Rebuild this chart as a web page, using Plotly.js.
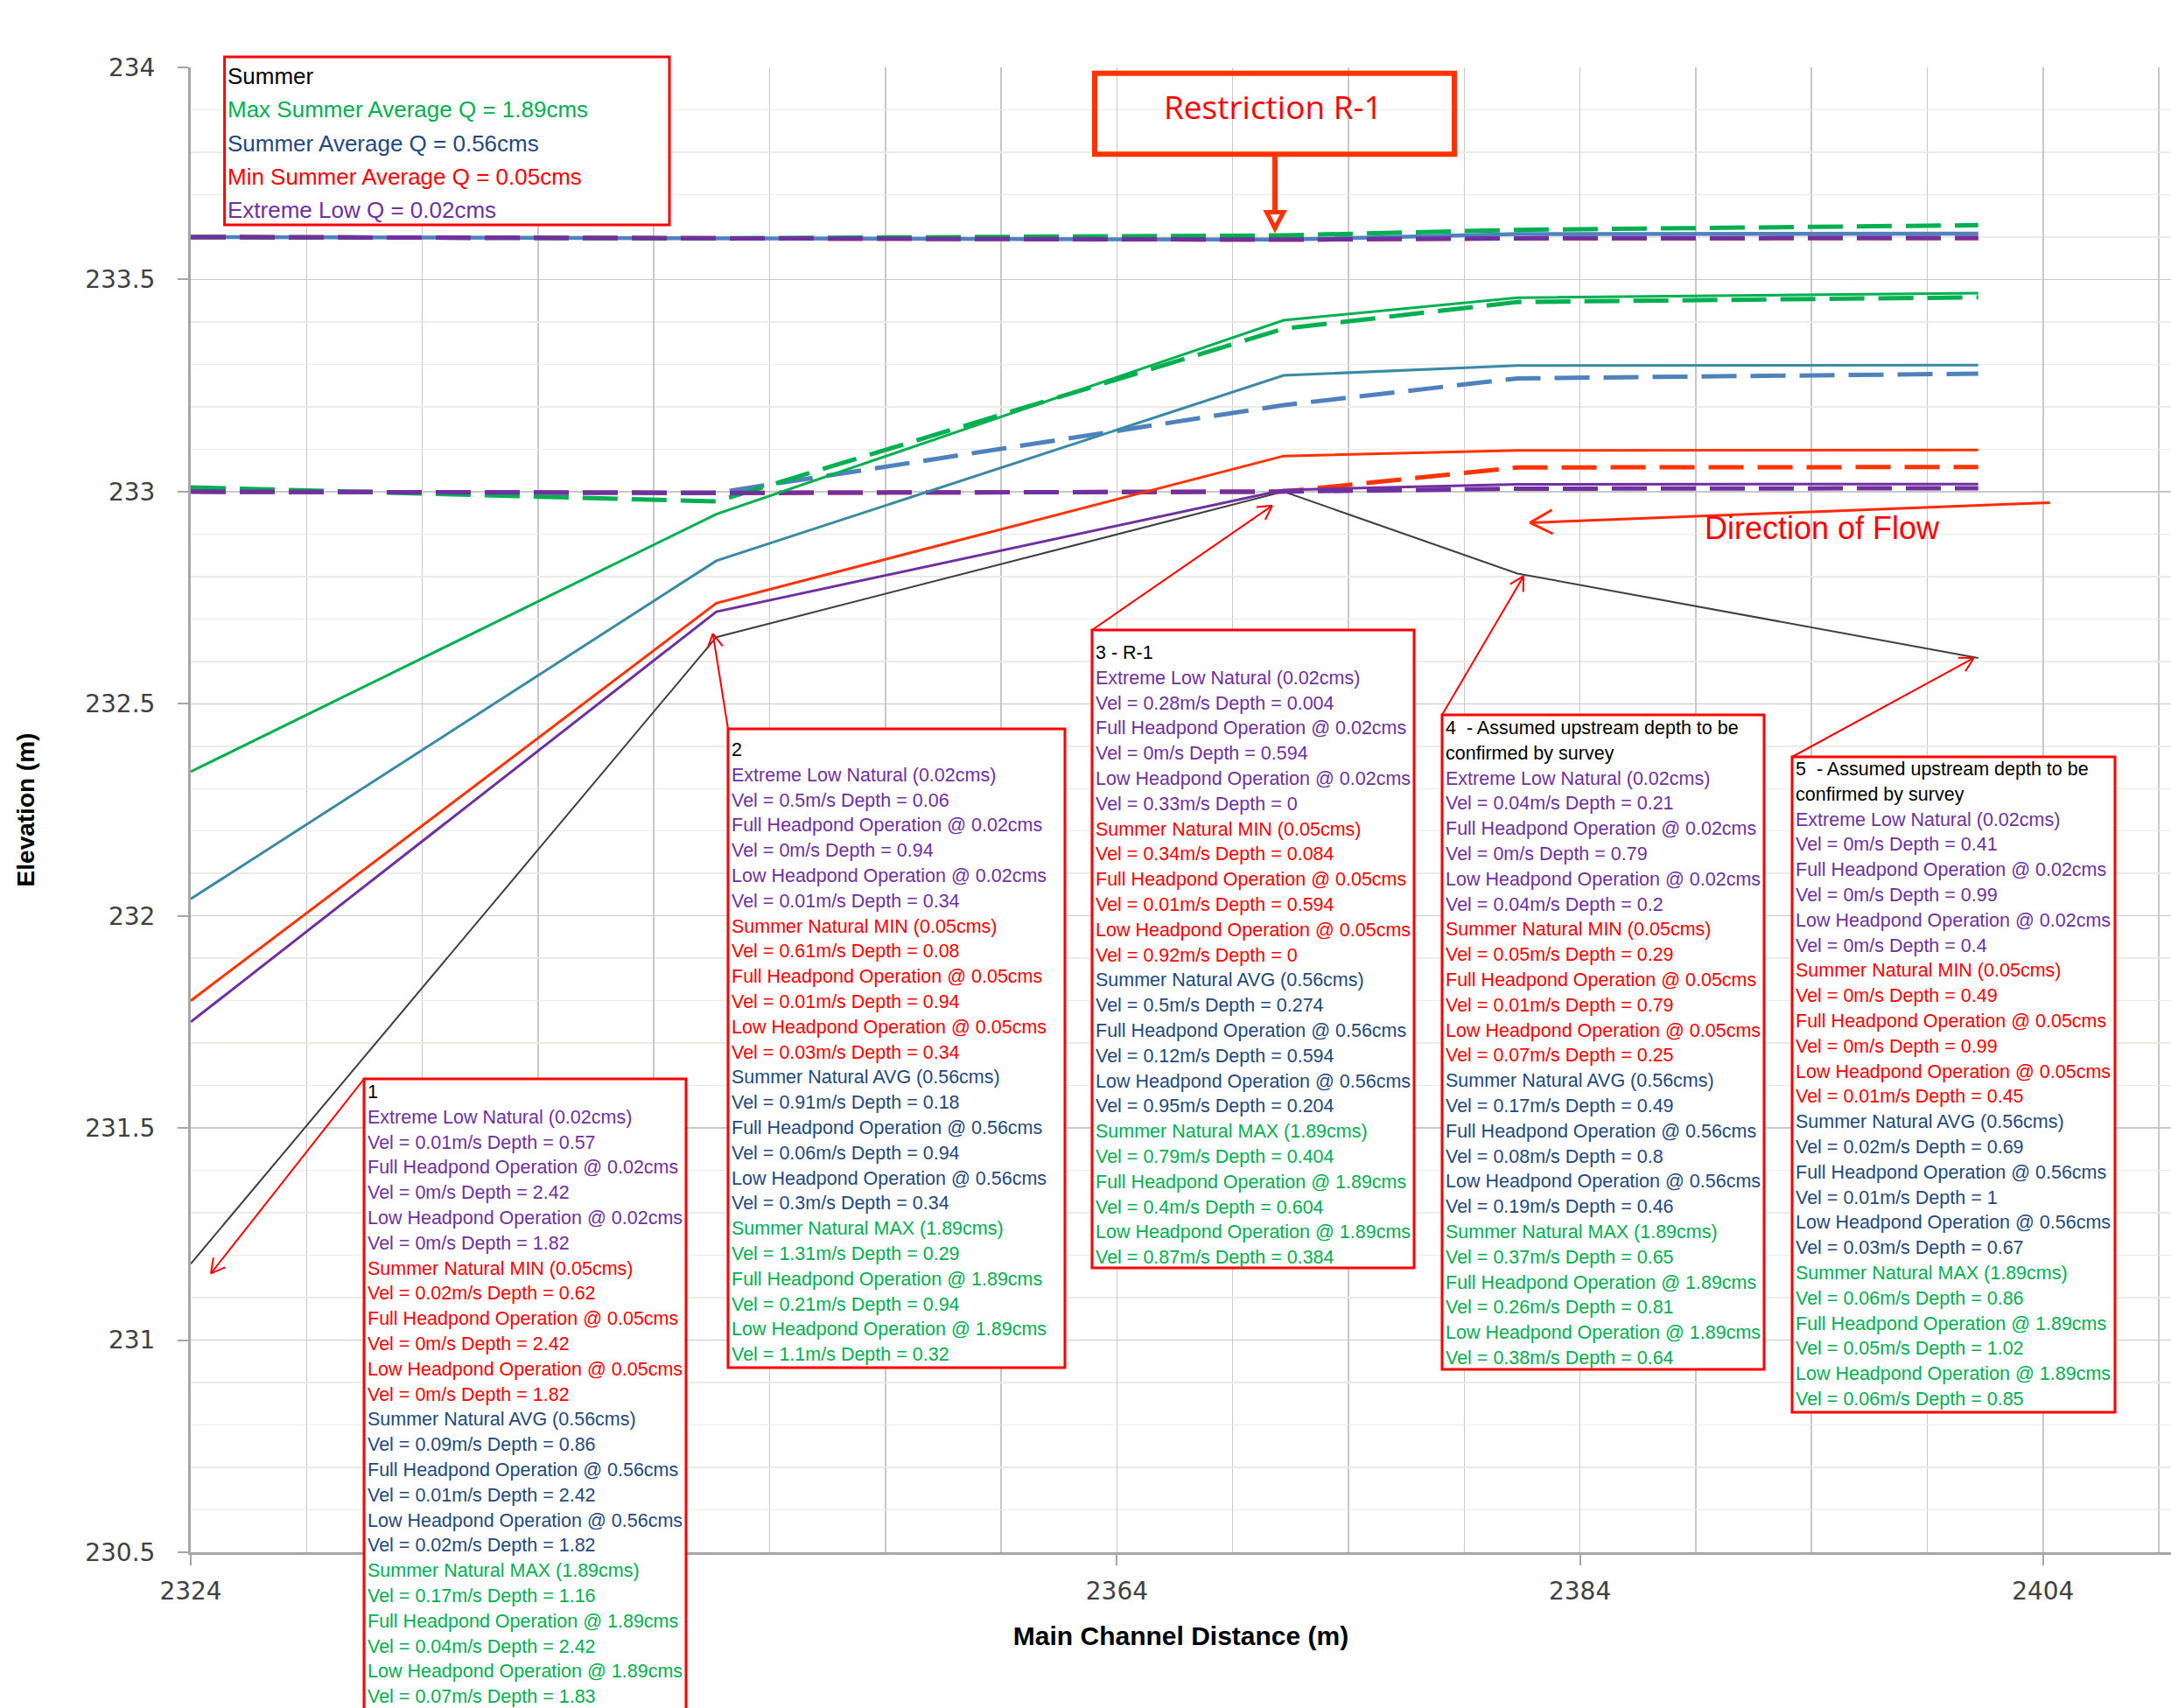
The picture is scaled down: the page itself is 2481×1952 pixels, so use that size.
<!DOCTYPE html>
<html>
<head>
<meta charset="utf-8">
<script src="https://cdn.plot.ly/plotly-3.0.1.min.js"></script>
<style>
  html, body { margin: 0; padding: 0; background: #ffffff; }
  #chart { width: 2481px; height: 1952px; }
</style>
</head>
<body>
<div id="chart"></div>
<script>
// Cross-section chainages along the main channel (m) and bed elevation (m)
const sectionDist = [2324, 2346.7, 2371.2, 2381.3, 2401.2];
const bedElev = [231.18, 232.657, 233.0, 232.807, 232.608];

// Flow depth (m) at each cross-section, per scenario
const depthNatExtLow = [0.57, 0.06, 0.004, 0.21, 0.41];
const depthFullHp002 = [2.42, 0.94, 0.594, 0.79, 0.99];
const depthLowHp002  = [1.82, 0.34, 0, 0.2, 0.4];
const depthNatMin    = [0.62, 0.08, 0.084, 0.29, 0.49];
const depthFullHp005 = [2.42, 0.94, 0.594, 0.79, 0.99];
const depthLowHp005  = [1.82, 0.34, 0, 0.25, 0.45];
const depthNatAvg    = [0.86, 0.18, 0.274, 0.49, 0.69];
const depthFullHp056 = [2.42, 0.94, 0.594, 0.8, 1];
const depthLowHp056  = [1.82, 0.34, 0.204, 0.46, 0.67];
const depthNatMax    = [1.16, 0.29, 0.404, 0.65, 0.86];
const depthFullHp189 = [2.42, 0.94, 0.604, 0.81, 1.02];
const depthLowHp189  = [1.83, 0.32, 0.384, 0.64, 0.85];

// Mean velocity (m/s) at each cross-section, per scenario
const velNatExtLow = [0.01, 0.5, 0.28, 0.04, 0];
const velFullHp002 = [0, 0, 0, 0, 0];
const velLowHp002  = [0, 0.01, 0.33, 0.04, 0];
const velNatMin    = [0.02, 0.61, 0.34, 0.05, 0];
const velFullHp005 = [0, 0.01, 0.01, 0.01, 0];
const velLowHp005  = [0, 0.03, 0.92, 0.07, 0.01];
const velNatAvg    = [0.09, 0.91, 0.5, 0.17, 0.02];
const velFullHp056 = [0.01, 0.06, 0.12, 0.08, 0.01];
const velLowHp056  = [0.02, 0.3, 0.95, 0.19, 0.03];
const velNatMax    = [0.17, 1.31, 0.79, 0.37, 0.06];
const velFullHp189 = [0.04, 0.21, 0.4, 0.26, 0.05];
const velLowHp189  = [0.07, 1.1, 0.87, 0.38, 0.06];

// Labels
const flowRates = ['0.02', '0.05', '0.56', '1.89'];
const naturalNames = ['Extreme Low Natural (0.02cms)', 'Summer Natural MIN (0.05cms)',
                      'Summer Natural AVG (0.56cms)', 'Summer Natural MAX (1.89cms)'];
const sectionHeaders = [['1'], ['2'], ['3 - R-1'],
  ['4 \u00a0- Assumed upstream depth to be', 'confirmed by survey'],
  ['5 \u00a0- Assumed upstream depth to be', 'confirmed by survey']];
const legendLines = ['Summer', 'Max Summer Average Q = 1.89cms', 'Summer Average Q = 0.56cms',
                     'Min Summer Average Q = 0.05cms', 'Extreme Low Q = 0.02cms'];
// x tick labels (the 2344 position sits under note box 1)
const xTickVals = [2324, 2344, 2364, 2384, 2404];
const xTickText = ['2324', '', '2364', '2384', '2404'];
const xTitle = 'Main Channel Distance (m)';
const yTitle = 'Elevation (m)';
const restrictionLabel = 'Restriction R-1';
const flowLabel = 'Direction of Flow';

// ---------- styling ----------
const PURPLE = '#7030a0', ORANGE_RED = '#ff3300', TEAL = '#3a8aa6', BLUE = '#4f81bd',
      GREEN = '#00b050', RED = '#ff0000', NAVY = '#1f497d', BED = '#404040';
const DASH = '40px,16px';
const TEXT_FONT = 'Liberation Sans, Arial, sans-serif';

// page geometry (px)
const W = 2481, H = 1952, ML = 218, MR = 0, MT = 77, MB = 178;
const PW = W - ML - MR, PH = H - MT - MB;
const X0 = 2324, PX_PER_M = 26.46, XMAX = X0 + PW / PX_PER_M;
const Y0 = 230.5, Y1 = 234;

const pxX = px => (px - ML) / PW;                 // page px -> paper x
const pxY = py => (H - MB - py) / PH;             // page px -> paper y
const dataToPx = (x, y) => [ML + (x - X0) / (XMAX - X0) * PW, H - MB - (y - Y0) / (Y1 - Y0) * PH];

// ---------- traces ----------
const surface = depth => depth.map((d, i) => +(bedElev[i] + d).toFixed(4));
const lineTrace = (name, y, color, width, dash) => ({
  type: 'scatter', mode: 'lines', name, x: sectionDist, y,
  line: { color, width, dash: dash || 'solid' }, hoverinfo: 'skip', showlegend: false
});

const traces = [
  lineTrace('Bed', bedElev, BED, 2),
  lineTrace('Full Headpond @ 0.05cms', surface(depthFullHp005), ORANGE_RED, 5, DASH),
  lineTrace('Full Headpond @ 0.56cms', surface(depthFullHp056), BLUE, 4.5),
  lineTrace('Full Headpond @ 1.89cms', surface(depthFullHp189), GREEN, 5, DASH),
  lineTrace('Full Headpond @ 0.02cms', surface(depthFullHp002), PURPLE, 5, DASH),
  lineTrace('Low Headpond @ 0.05cms', surface(depthLowHp005), ORANGE_RED, 5, DASH),
  lineTrace('Low Headpond @ 0.56cms', surface(depthLowHp056), BLUE, 5, DASH),
  lineTrace('Low Headpond @ 1.89cms', surface(depthLowHp189), GREEN, 5, DASH),
  lineTrace('Low Headpond @ 0.02cms', surface(depthLowHp002), PURPLE, 5, DASH),
  lineTrace('Summer Natural MAX', surface(depthNatMax), GREEN, 3),
  lineTrace('Summer Natural AVG', surface(depthNatAvg), TEAL, 3),
  lineTrace('Summer Natural MIN', surface(depthNatMin), ORANGE_RED, 3),
  lineTrace('Extreme Low Natural', surface(depthNatExtLow), PURPLE, 3)
];

// ---------- note boxes ----------
const groups = [
  { color: PURPLE, nat: [velNatExtLow, depthNatExtLow], full: [velFullHp002, depthFullHp002], low: [velLowHp002, depthLowHp002] },
  { color: RED,    nat: [velNatMin, depthNatMin],       full: [velFullHp005, depthFullHp005], low: [velLowHp005, depthLowHp005] },
  { color: NAVY,   nat: [velNatAvg, depthNatAvg],       full: [velFullHp056, depthFullHp056], low: [velLowHp056, depthLowHp056] },
  { color: GREEN,  nat: [velNatMax, depthNatMax],       full: [velFullHp189, depthFullHp189], low: [velLowHp189, depthLowHp189] }
];
const velLine = (pair, i) => `Vel = ${pair[0][i]}m/s Depth = ${pair[1][i]}`;

function noteLines(i) {
  const out = sectionHeaders[i].map(t => ({ t, c: '#000000' }));
  groups.forEach((g, k) => {
    out.push({ t: naturalNames[k], c: g.color });
    out.push({ t: velLine(g.nat, i), c: g.color });
    out.push({ t: `Full Headpond Operation @ ${flowRates[k]}cms`, c: g.color });
    out.push({ t: velLine(g.full, i), c: g.color });
    out.push({ t: `Low Headpond Operation @ ${flowRates[k]}cms`, c: g.color });
    out.push({ t: velLine(g.low, i), c: g.color });
  });
  return out;
}

// box frames in page px: left, top, right, bottom, centre of first text line
const noteBoxes = [
  [416, 1233, 784, 1995, 1248],
  [832, 833, 1217, 1563, 857],
  [1248, 720, 1616, 1449, 746],
  [1648, 817, 2016, 1565, 832],
  [2048, 865, 2417, 1614, 879]
];
const LINE_PITCH = 28.8;
// small pixel nudges of the leader tips from each bed point
const tipNudge = [[23, 11], [-4, -4], [-13, 16], [7, 3], [-5, 0]];

const shapes = [];
const annotations = [];

const seg = (x0, y0, x1, y1, color, width) => shapes.push({
  type: 'line', xref: 'paper', yref: 'paper', layer: 'above',
  x0: pxX(x0), y0: pxY(y0), x1: pxX(x1), y1: pxY(y1), line: { color, width }
});
function arrow(tx, ty, hx, hy, color, width, arm, half) {
  seg(tx, ty, hx, hy, color, width);
  const ang = Math.atan2(ty - hy, tx - hx);
  [-half, half].forEach(d => {
    const a = ang + d * Math.PI / 180;
    seg(hx, hy, hx + arm * Math.cos(a), hy + arm * Math.sin(a), color, width);
  });
}
const rect = (x0, y0, x1, y1, color, width, fill) => shapes.push({
  type: 'rect', xref: 'paper', yref: 'paper', layer: 'above',
  x0: pxX(x0), y0: pxY(y0), x1: pxX(x1), y1: pxY(y1),
  line: { color, width }, fillcolor: fill || 'rgba(0,0,0,0)'
});
const text = (x, y, t, color, size, family, xanchor) => annotations.push({
  xref: 'paper', yref: 'paper', x: pxX(x), y: pxY(y), text: t, showarrow: false,
  xanchor: xanchor || 'left', yanchor: 'middle',
  font: { family: family || TEXT_FONT, size, color }
});

noteBoxes.forEach((b, i) => {
  rect(b[0], b[1], b[2], b[3], RED, 3, '#ffffff');
  noteLines(i).forEach((ln, k) => text(b[0] + 2, b[4] + k * LINE_PITCH, ln.t, ln.c, 21.5));
  const p = dataToPx(sectionDist[i], bedElev[i]);
  arrow(b[0], b[1], p[0] + tipNudge[i][0], p[1] + tipNudge[i][1], RED, 2, 18, 29);
});

// scenario key
rect(256.6, 65, 765, 257, RED, 3, '#ffffff');
const legendColors = ['#000000', GREEN, NAVY, RED, PURPLE];
legendLines.forEach((t, k) => text(258, 87.3 + k * 38.2, t, legendColors[k], 26));

// restriction call-out
rect(1251, 83.7, 1662, 176.3, ORANGE_RED, 6);
text(1455, 121, restrictionLabel, RED, 37, 'Open Sans, DejaVu Sans, sans-serif', 'center');
seg(1457, 179, 1457, 243, ORANGE_RED, 6);
shapes.push({
  type: 'path', xref: 'paper', yref: 'paper', layer: 'above',
  path: `M ${pxX(1447.5)} ${pxY(242.5)} L ${pxX(1466.8)} ${pxY(242.5)} L ${pxX(1457)} ${pxY(261)} Z`,
  fillcolor: '#ffffff', line: { color: ORANGE_RED, width: 5 }
});

// flow direction
arrow(2342.7, 574.4, 1748.5, 597.4, '#ff2a0a', 3, 29, 28);
text(2082, 604, flowLabel, RED, 36, TEXT_FONT, 'center');

// ---------- layout ----------
const tickFont = { family: 'DejaVu Sans, Verdana, sans-serif', size: 28, color: '#404040' };
const titleFont = { family: TEXT_FONT, size: 28, color: '#000000', weight: 'bold' };

const layout = {
  width: W, height: H,
  margin: { l: ML, r: MR, t: MT, b: MB, pad: 0 },
  paper_bgcolor: '#ffffff', plot_bgcolor: '#ffffff',
  showlegend: false,
  xaxis: {
    range: [X0, XMAX], tickmode: 'array', tickvals: xTickVals, ticktext: xTickText,
    showgrid: true, gridcolor: '#c8c8c8', gridwidth: 1.5,
    minor: { tick0: 2324, dtick: 5, showgrid: true, gridcolor: '#c8c8c8', gridwidth: 1.5, ticks: '' },
    showline: true, linecolor: '#a6a6a6', linewidth: 3, zeroline: false,
    ticks: 'outside', ticklen: 12, tickwidth: 2, tickcolor: '#a6a6a6',
    tickfont: tickFont, ticklabelstandoff: 5, automargin: false,
    title: { text: xTitle, font: Object.assign({}, titleFont, { size: 30 }), standoff: 26 }
  },
  yaxis: {
    range: [Y0, Y1], tickmode: 'linear', tick0: 230.5, dtick: 0.5,
    showgrid: true, gridcolor: '#c8c8c8', gridwidth: 1.5,
    minor: { tick0: 230.5, dtick: 0.1, showgrid: true, gridcolor: '#ebeae5', gridwidth: 1.5, ticks: '' },
    showline: true, linecolor: '#a6a6a6', linewidth: 3, zeroline: false,
    ticks: 'outside', ticklen: 12, tickwidth: 2, tickcolor: '#a6a6a6',
    tickfont: tickFont, ticklabelstandoff: 20, automargin: false,
    title: { text: yTitle, font: titleFont, standoff: 50 }
  },
  shapes, annotations
};

Plotly.newPlot('chart', traces, layout, { displayModeBar: false, staticPlot: true });
</script>
</body>
</html>
